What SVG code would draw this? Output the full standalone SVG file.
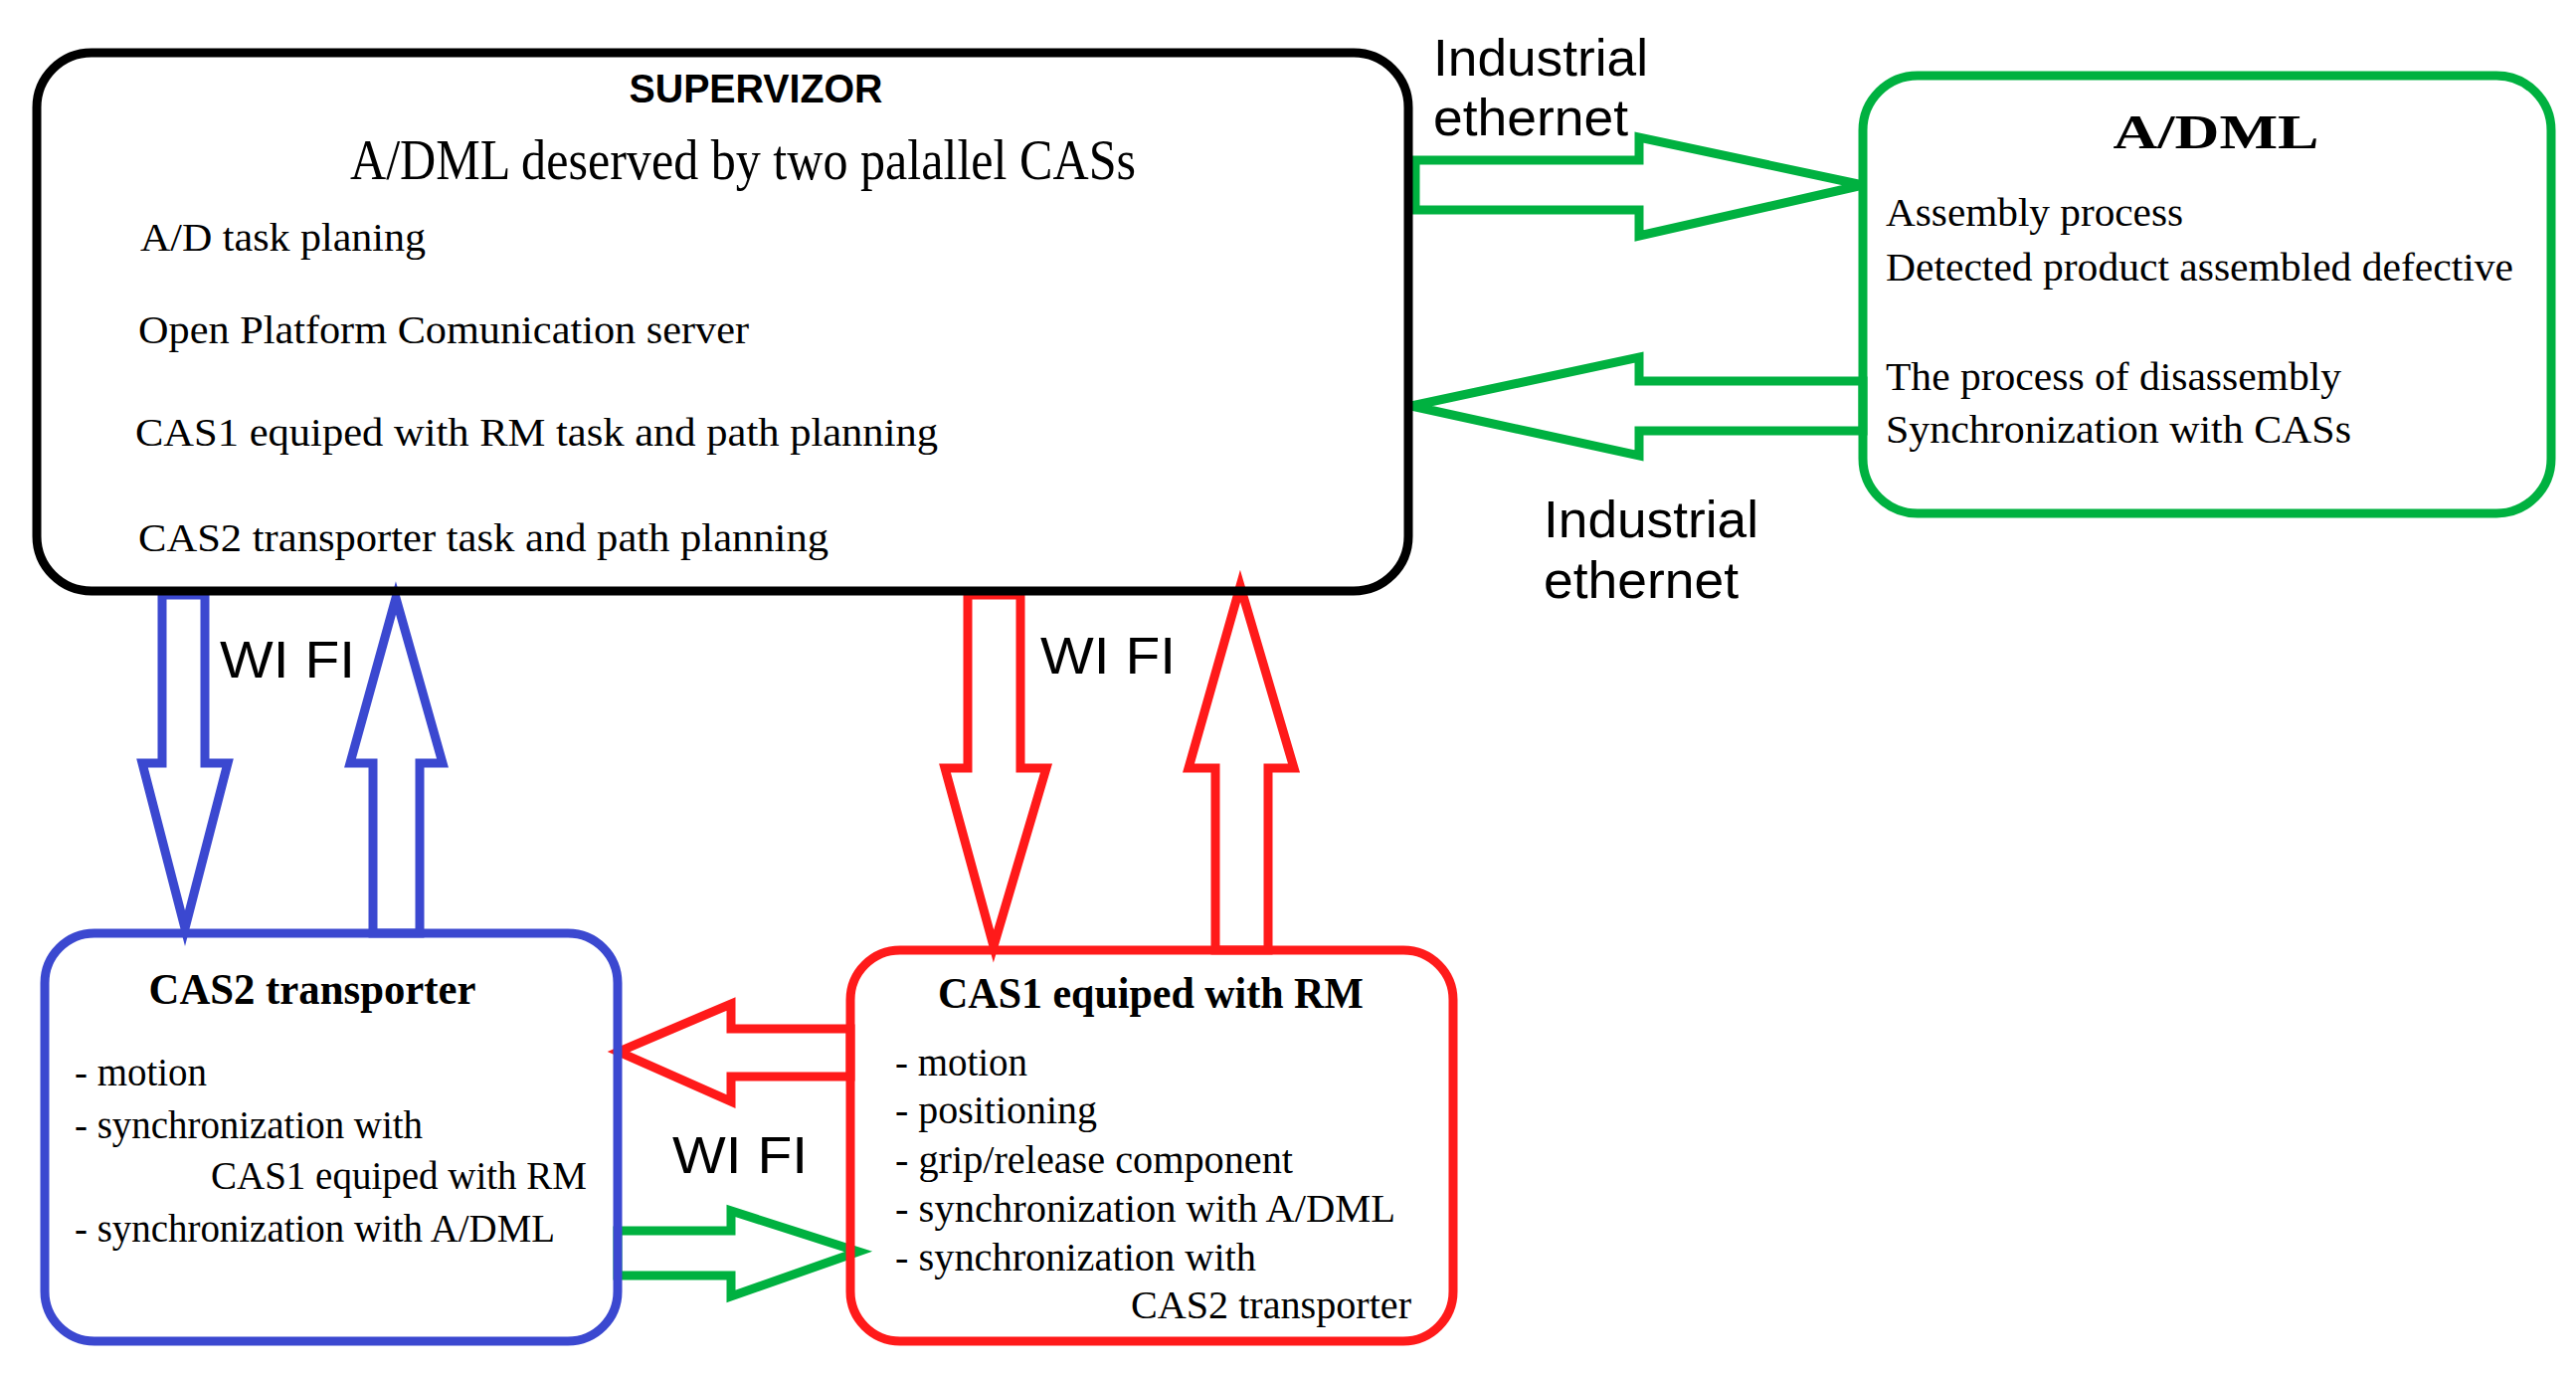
<svg xmlns="http://www.w3.org/2000/svg" width="2590" height="1384" viewBox="0 0 2590 1384">
<style>
.s{font-family:"Liberation Serif","Times New Roman",serif;fill:#000}
.a{font-family:"Liberation Sans",Arial,sans-serif;fill:#000}
.b{font-size:40px}
.arr{fill:#fff;stroke-width:9;stroke-linejoin:miter}
</style>
<rect width="2590" height="1384" fill="#fff"/>
<g id="connectors">
<polygon class="arr" stroke="#00b140" points="1423,161 1648,161 1648,138 1873,186 1648,237 1648,211 1423,211"/>
<polygon class="arr" stroke="#00b140" points="1873,383 1648,383 1648,359 1419,408 1648,458 1648,433 1873,433"/>
<polygon class="arr" stroke="#3b48d0" points="163,598 206,598 206,767 229,767 186,933 143,767 163,767"/>
<polygon class="arr" stroke="#3b48d0" points="375,938 375,767 352,767 398,601 445,767 422,767 422,938"/>
<polygon class="arr" stroke="#ff1a1a" points="973,598 1026,598 1026,772 1052,772 999,951 950,772 973,772"/>
<polygon class="arr" stroke="#ff1a1a" points="1222,955 1222,772 1195,772 1247,589 1301,772 1275,772 1275,955"/>
<polygon class="arr" stroke="#ff1a1a" points="855,1034 735,1034 735,1009 622,1057 735,1107 735,1082 855,1082"/>
<polygon class="arr" stroke="#00b140" points="621,1237 735,1237 735,1217 863,1258 735,1303 735,1282 621,1282"/>
<text class="a" x="221" y="681" font-size="52" textLength="136" lengthAdjust="spacingAndGlyphs">WI FI</text>
<text class="a" x="1046" y="677" font-size="52" textLength="136" lengthAdjust="spacingAndGlyphs">WI FI</text>
<text class="a" x="676" y="1179" font-size="52" textLength="136" lengthAdjust="spacingAndGlyphs">WI FI</text>
<text class="a" x="1441" y="76" font-size="52" textLength="216" lengthAdjust="spacingAndGlyphs">Industrial</text>
<text class="a" x="1441" y="136" font-size="52" textLength="196" lengthAdjust="spacingAndGlyphs">ethernet</text>
<text class="a" x="1552" y="540" font-size="52" textLength="216" lengthAdjust="spacingAndGlyphs">Industrial</text>
<text class="a" x="1552" y="601" font-size="52" textLength="196" lengthAdjust="spacingAndGlyphs">ethernet</text>
</g>
<g id="supervizor">
<rect x="37" y="53" width="1379" height="541" rx="55" fill="none" stroke="#000" stroke-width="9"/>
<text class="a" x="760" y="103" font-size="40" font-weight="bold" text-anchor="middle" textLength="255" lengthAdjust="spacingAndGlyphs">SUPERVIZOR</text>
<text class="s" x="352" y="180" font-size="56" textLength="790" lengthAdjust="spacingAndGlyphs">A/DML deserved by two palallel CASs</text>
<text class="s b" x="141" y="252" textLength="287" lengthAdjust="spacingAndGlyphs">A/D task planing</text>
<text class="s b" x="139" y="345" textLength="614" lengthAdjust="spacingAndGlyphs">Open Platform Comunication server</text>
<text class="s b" x="136" y="448" textLength="807" lengthAdjust="spacingAndGlyphs">CAS1 equiped with RM task and path planning</text>
<text class="s b" x="139" y="554" textLength="694" lengthAdjust="spacingAndGlyphs">CAS2  transporter task and path planning</text>
</g>
<g id="adml">
<rect x="1873" y="76" width="692" height="440" rx="55" fill="none" stroke="#00b140" stroke-width="9"/>
<text class="s" x="2228" y="149" font-size="48" font-weight="bold" text-anchor="middle" textLength="207" lengthAdjust="spacingAndGlyphs">A/DML</text>
<text class="s b" x="1896" y="227" textLength="299" lengthAdjust="spacingAndGlyphs">Assembly process</text>
<text class="s b" x="1896" y="282" textLength="631" lengthAdjust="spacingAndGlyphs">Detected product assembled defective</text>
<text class="s b" x="1896" y="392" textLength="458" lengthAdjust="spacingAndGlyphs">The process of disassembly</text>
<text class="s b" x="1896" y="445" textLength="468" lengthAdjust="spacingAndGlyphs">Synchronization with CASs</text>
</g>
<g id="cas2">
<rect x="45" y="938" width="576" height="410" rx="50" fill="none" stroke="#3b48d0" stroke-width="9"/>
<text class="s" x="314" y="1009" font-size="44" font-weight="bold" text-anchor="middle" textLength="329" lengthAdjust="spacingAndGlyphs">CAS2 transporter</text>
<text class="s b" x="75" y="1091" textLength="133" lengthAdjust="spacingAndGlyphs">- motion</text>
<text class="s b" x="75" y="1144" textLength="350" lengthAdjust="spacingAndGlyphs">- synchronization with</text>
<text class="s b" x="212" y="1195" textLength="378" lengthAdjust="spacingAndGlyphs">CAS1 equiped with RM</text>
<text class="s b" x="75" y="1248" textLength="483" lengthAdjust="spacingAndGlyphs">- synchronization with A/DML</text>
</g>
<g id="cas1">
<rect x="855" y="955" width="606" height="393" rx="50" fill="none" stroke="#ff1a1a" stroke-width="9"/>
<text class="s" x="1157" y="1013" font-size="44" font-weight="bold" text-anchor="middle" textLength="428" lengthAdjust="spacingAndGlyphs">CAS1 equiped with RM</text>
<text class="s b" x="900" y="1081" textLength="133" lengthAdjust="spacingAndGlyphs">- motion</text>
<text class="s b" x="900" y="1129" textLength="203" lengthAdjust="spacingAndGlyphs">- positioning</text>
<text class="s b" x="900" y="1179" textLength="400" lengthAdjust="spacingAndGlyphs">- grip/release component</text>
<text class="s b" x="900" y="1228" textLength="503" lengthAdjust="spacingAndGlyphs">- synchronization with A/DML</text>
<text class="s b" x="900" y="1277" textLength="363" lengthAdjust="spacingAndGlyphs">- synchronization with</text>
<text class="s b" x="1137" y="1325" textLength="282" lengthAdjust="spacingAndGlyphs">CAS2 transporter</text>
</g>
</svg>
